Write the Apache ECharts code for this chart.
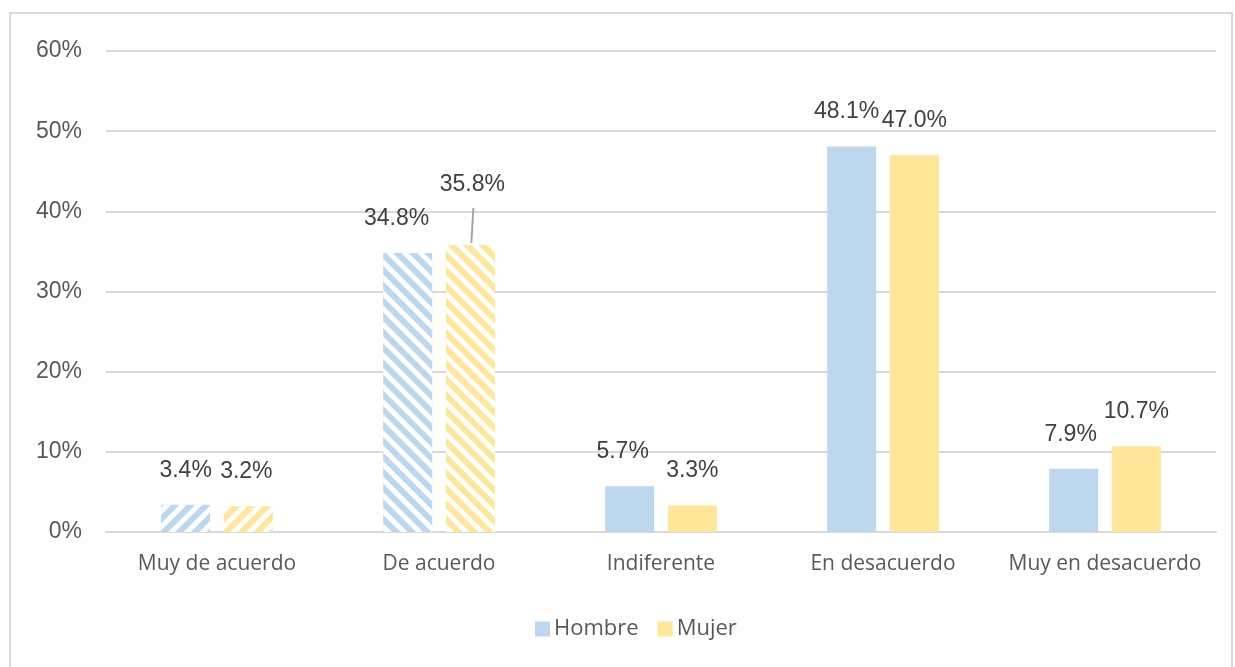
<!DOCTYPE html>
<html><head><meta charset="utf-8">
<script src="https://cdn.jsdelivr.net/npm/echarts@6/dist/echarts.min.js"></script>
<style>html,body{margin:0;padding:0;background:#fff}#c{width:1235px;height:667px}</style>
</head><body><div id="c"></div>
<script>
const categories = ['Muy de acuerdo','De acuerdo','Indiferente','En desacuerdo','Muy en desacuerdo'];
const hombre = [3.4, 34.8, 5.7, 48.1, 7.9];
const mujer = [3.2, 35.8, 3.3, 47.0, 10.7];
const yTicks = [0,10,20,30,40,50,60];
const seriesNames = ['Hombre','Mujer'];

const blue = '#bdd7ee', yellow = '#ffe699';
const BW = 49, GAPF = 0.28;
function stripe(rot){
  return {symbol:'rect', color:'#ffffff', dashArrayX:[1,0], dashArrayY:[5,6], rotation:rot};
}
function mk(vals, color, name){
  return {
    name, type:'bar', barWidth:BW, barGap:(GAPF*100)+'%',
    itemStyle:{color},
    label:{show:true, position:'top', distance:23, formatter:p=>p.value.toFixed(1)+'%',
      fontFamily:'Liberation Sans, Arial', fontSize:23, color:'#404040'},
    data: vals.map((v,i)=>{
      const d={value:v};
      if(i<2){ d.itemStyle={color, decal: stripe(i===0? -Math.PI/4 : Math.PI/4)}; }
      return d;
    })
  };
}
const s1 = mk(hombre, blue, seriesNames[0]);
const s2 = mk(mujer, yellow, seriesNames[1]);
s1.data[1].label={offset:[-11,0]};
s1.data[2].label={offset:[-7,0]};
s1.data[3].label={offset:[-5,0]};
s1.data[4].label={offset:[-3,0]};
s2.data[0].label={offset:[-2,0]};
s2.data[1].label={offset:[2,-26]};

// leader line for the moved 35.8% label
const leader = {
  type:'custom', silent:true, z:3,
  data:[[1, mujer[1]]],
  renderItem:(params, api)=>{
    const p = api.coord([api.value(0), api.value(1)]);
    const x = p[0] + (BW*(1+GAPF))/2 + 1;
    return {type:'line', shape:{x1:x, y1:p[1]-2, x2:x+2, y2:p[1]-37},
      style:{stroke:'#a6a6a6', lineWidth:2}};
  }
};

const chart = echarts.init(document.getElementById('c'));
chart.setOption({
  animation:false,
  graphic:[{type:'rect', shape:{x:10,y:13,width:1222,height:660}, style:{fill:'none', stroke:'#d9d9d9', lineWidth:2}, silent:true}],
  grid:{left:106, right:19, top:51, bottom:135},
  legend:{data:seriesNames, bottom:22, left:530, itemWidth:15, itemHeight:15, itemGap:19,
    icon:'rect', textStyle:{fontFamily:'Open Sans', fontSize:22, color:'#595959', padding:[0,0,0,-1]}},
  xAxis:{type:'category', data:categories,
    axisLine:{lineStyle:{color:'#d9d9d9', width:2}}, axisTick:{show:false},
    axisLabel:{interval:0, fontFamily:'Open Sans', fontSize:21, color:'#595959', margin:22}},
  yAxis:{type:'value', min:0, max:60, interval:10,
    axisLabel:{formatter:v=>v+'%', fontFamily:'Liberation Sans, Arial', fontSize:23, color:'#595959', margin:24},
    splitLine:{lineStyle:{color:'#d9d9d9', width:2}}, axisLine:{show:false}, axisTick:{show:false}},
  series:[s1, s2, leader]
});
</script></body></html>
